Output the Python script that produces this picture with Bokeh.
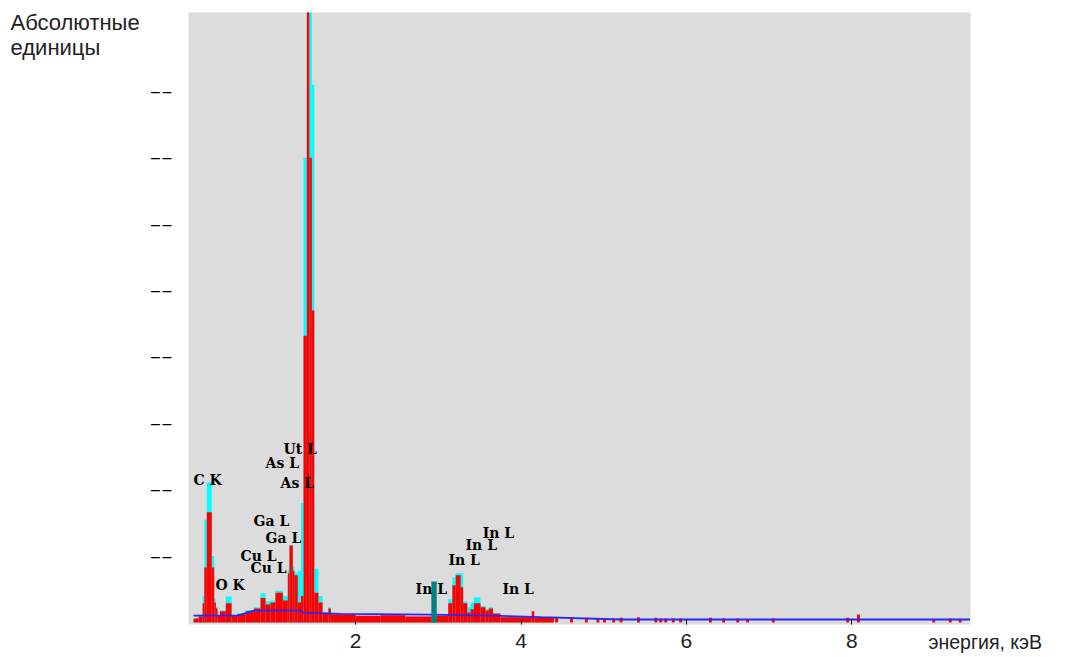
from bokeh.plotting import figure
from bokeh.models import Range1d, FixedTicker, Label
from bokeh.core.properties import value
from bokeh.embed import file_html
from bokeh.resources import INLINE

# ---- spectrum histogram (energy in keV, counts in absolute units) ----
bin_edges = [0.04, 0.10, 0.15, 0.17, 0.20, 0.26, 0.29, 0.31, 0.33, 0.36,
             0.43, 0.50, 0.57, 0.67, 0.77, 0.85, 0.91, 0.97, 1.03, 1.12,
             1.18, 1.20, 1.24, 1.26, 1.30, 1.34, 1.37, 1.41, 1.44, 1.47,
             1.50, 1.55, 1.60, 1.67, 1.70, 2.00, 2.30, 2.60, 2.92, 2.98,
             3.12, 3.17, 3.21, 3.27, 3.30, 3.35, 3.39, 3.43, 3.51, 3.57,
             3.61, 3.66, 3.75, 4.13, 4.16, 4.40]

red_counts = [60, 90, 290, 830, 1660, 830, 300, 210, 100, 170,
              290, 100, 130, 170, 210, 370, 270, 300, 450, 330,
              740, 1160, 780, 710, 300, 400, 4320, 9600, 7000, 4700,
              450, 300, 140, 210, 120, 100, 110, 90, 90, 100,
              290, 560, 710, 530, 290, 150, 200, 290, 230, 180,
              210, 135, 80, 170, 70]

cyan_counts = [60, 120, 400, 1550, 2110, 1000, 350, 230, 100, 180,
               390, 100, 140, 190, 230, 440, 320, 330, 480, 400,
               800, 1160, 840, 750, 780, 1800, 7000, 9600, 9600, 8100,
               810, 400, 160, 230, 120, 100, 110, 90, 90, 100,
               350, 680, 740, 740, 320, 230, 300, 380, 250, 200,
               230, 135, 80, 170, 70]

# sparse high-energy counts
spike_energy = [4.43, 4.61, 4.79, 4.93, 5.01, 5.12, 5.21, 5.42, 5.63, 5.69,
                5.75, 5.84, 5.93, 6.29, 6.45, 6.62, 6.74, 7.05, 7.95, 8.08,
                8.99, 9.19, 9.31]
spike_counts = [80, 70, 70, 60, 60, 60, 70, 80, 70, 60,
                60, 60, 60, 70, 60, 60, 50, 60, 70, 120,
                50, 60, 50]

# background (blue)
bg_energy = [0.04, 0.57, 0.77, 1.33, 1.36, 1.82, 2.92, 3.75, 4.24, 5.21, 9.43]
bg_counts = [105, 105, 180, 180, 150, 130, 120, 100, 80, 45, 45]

# marker bar (teal)
marker_energy = [2.948]
marker_counts = [617]

# peak labels
peak_text = ["C K", "O K", "Cu L", "Cu L", "Ga L", "Ga L", "As L", "As L", "Ut L",
             "In L", "In L", "In L", "In L", "In L"]
peak_energy = [0.04, 0.306, 0.608, 0.729, 0.765, 0.911, 1.092, 0.911, 1.128,
               3.536, 3.329, 3.123, 2.725, 3.776]
peak_counts = [2139, 572, 1009, 828, 1536, 1280, 2108, 2395, 2620,
               1355, 1160, 934, 512, 512]

x_ticks = [2, 4, 6, 8]
y_ticks = [1000, 2000, 3000, 4000, 5000, 6000, 7000, 8000]

p = figure(width=1084, height=656, output_backend="svg", toolbar_location=None,
           x_range=Range1d(-0.021, 9.435), y_range=Range1d(-30, 9187),
           min_border_left=188, min_border_right=114, min_border_top=12,
           min_border_bottom=32)
p.background_fill_color = "#dcdcdc"
p.border_fill_color = "white"
p.outline_line_color = None
p.xgrid.visible = False
p.ygrid.visible = False

# cyan spectrum (behind), red spectrum (front)
p.quad(left=bin_edges[:-1], right=bin_edges[1:], bottom=0, top=cyan_counts,
       fill_color="#00ffff", line_color=None)
p.quad(left=bin_edges[:-1], right=bin_edges[1:], bottom=0, top=red_counts,
       fill_color="#ff0000", line_color=None)
p.vbar(x=spike_energy, top=spike_counts, width=0.035, bottom=0,
       fill_color="#ff0000", line_color=None)
p.line(bg_energy, bg_counts, line_color="#2626ff", line_width=1.8)
p.vbar(x=marker_energy, top=marker_counts, width=0.065, bottom=0,
       fill_color="#008080", line_color=None)

p.text(x=peak_energy, y=peak_counts, text=peak_text,
       text_font=value("DejaVu Serif"), text_font_style="bold",
       text_font_size="14px", text_color="black",
       text_align="left", text_baseline="middle")

# axes
xa = p.xaxis[0]
xa.ticker = FixedTicker(ticks=x_ticks)
xa.axis_line_color = None
xa.major_tick_in = 5
xa.major_tick_out = 0
xa.major_tick_line_color = "black"
xa.minor_tick_line_color = None
xa.major_label_standoff = 9
xa.major_label_text_font = "Liberation Sans"
xa.major_label_text_font_size = "21px"
xa.major_label_text_color = "#222222"

ya = p.yaxis[0]
ya.ticker = FixedTicker(ticks=y_ticks)
ya.axis_line_color = None
ya.major_tick_line_color = None
ya.minor_tick_line_color = None
ya.major_label_overrides = {t: "\u2013\u2006\u2013" for t in y_ticks}
ya.major_label_standoff = 11
ya.major_label_text_font = "Liberation Sans"
ya.major_label_text_font_size = "16px"
ya.major_label_text_color = "black"

# axis titles, placed in side panels (canvas pixel placement, not clipped)
p.add_layout(Label(x=10, y=34, x_units="canvas", y_units="canvas",
                   text="Абсолютные\nединицы",
                   text_font="Liberation Sans", text_font_size="22px",
                   text_color="#222222", text_align="left",
                   text_baseline="middle", text_line_height=1.0), "left")
p.add_layout(Label(x=928, y=641, x_units="canvas", y_units="canvas",
                   text="энергия, кэВ", text_font="Liberation Sans",
                   text_font_size="19.5px", text_color="#222222",
                   text_align="left", text_baseline="middle"), "right")

open("out.html", "w").write(file_html(p, INLINE))
